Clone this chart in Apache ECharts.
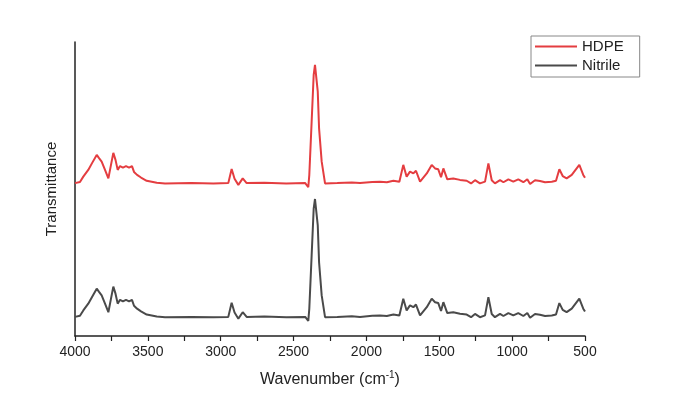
<!DOCTYPE html>
<html>
<head>
<meta charset="utf-8">
<script src="https://cdn.jsdelivr.net/npm/echarts@6/dist/echarts.min.js"></script>
<style>
  html, body { margin: 0; padding: 0; background: #fff; }
  #chart { width: 685px; height: 395px; }
</style>
</head>
<body>
<div id="chart"></div>
<script>
// wavenumbers (cm-1)
const wavenumbers = [
  4000, 3966, 3943, 3909, 3883, 3851, 3835, 3817, 3794, 3771,
  3753, 3737, 3722, 3707, 3691, 3671, 3650, 3629, 3609, 3595,
  3574, 3547, 3508, 3439, 3382, 3200, 3050, 2948, 2925, 2905,
  2879, 2849, 2822, 2700, 2550, 2420, 2399, 2392, 2376, 2362,
  2353, 2334, 2325, 2307, 2284, 2200, 2100, 2044, 1960, 1907,
  1860, 1815, 1774, 1747, 1724, 1701, 1678, 1660, 1632, 1586,
  1552, 1529, 1507, 1488, 1472, 1445, 1404, 1358, 1312, 1282,
  1255, 1221, 1186, 1163, 1140, 1118, 1083, 1060, 1026, 992,
  958, 923, 896, 877, 843, 809, 774, 728, 699, 676,
  653, 626, 591, 539, 512, 500
];

const hdpe = [
  52.0, 52.4, 54.2, 56.5, 58.8, 61.6, 60.5, 59.3, 56.5, 53.6,
  58.2, 62.3, 59.9, 56.5, 57.8, 57.3, 57.8, 57.3, 57.8, 55.8,
  54.8, 53.9, 52.8, 52.1, 51.9, 52.0, 51.9, 52.0, 56.8, 53.5,
  51.4, 53.6, 52.0, 52.1, 51.9, 52.0, 50.6, 54.8, 72.9, 88.8,
  92.2, 83.1, 70.6, 59.3, 51.9, 52.0, 52.2, 52.0, 52.4, 52.5,
  52.3, 52.8, 52.5, 58.2, 54.2, 55.9, 55.3, 56.2, 52.5, 55.3,
  58.2, 57.0, 56.7, 54.0, 57.0, 53.3, 53.6, 53.1, 52.8, 51.9,
  53.0, 51.9, 52.5, 58.7, 53.0, 51.9, 53.0, 52.3, 53.3, 52.5,
  53.3, 52.3, 53.3, 51.7, 53.0, 52.7, 52.3, 52.5, 52.8, 56.7,
  54.4, 53.6, 54.8, 58.2, 54.8, 53.8
];

const nitrile = [
  6.5, 6.9, 8.7, 11.0, 13.3, 16.1, 15.0, 13.8, 11.0, 8.1,
  12.7, 16.8, 14.4, 11.0, 12.3, 11.8, 12.3, 11.8, 12.3, 10.3,
  9.3, 8.4, 7.3, 6.6, 6.4, 6.5, 6.4, 6.5, 11.3, 8.0,
  5.9, 8.1, 6.5, 6.6, 6.4, 6.5, 5.1, 9.3, 27.4, 43.3,
  46.6, 37.6, 25.1, 13.8, 6.4, 6.5, 6.7, 6.5, 6.9, 7.0,
  6.8, 7.3, 7.0, 12.7, 8.7, 10.4, 9.8, 10.7, 7.0, 9.8,
  12.7, 11.5, 11.2, 8.5, 11.5, 7.8, 8.1, 7.6, 7.3, 6.4,
  7.5, 6.4, 7.0, 13.2, 7.5, 6.4, 7.5, 6.8, 7.8, 7.0,
  7.8, 6.8, 7.8, 6.2, 7.5, 7.2, 6.8, 7.0, 7.3, 11.2,
  8.9, 8.1, 9.3, 12.7, 9.3, 8.3
];

const FONT = 'Liberation Sans';
const chart = echarts.init(document.getElementById('chart'));

function pairs(values) {
  return wavenumbers.map((w, i) => [w, values[i]]);
}

chart.setOption({
  animation: false,
  textStyle: { fontFamily: FONT },
  grid: { left: 75, right: 100, top: 42, bottom: 59 },
  legend: {
    orient: 'vertical',
    left: 531,
    top: 36,
    itemWidth: 42,
    itemHeight: 14,
    itemGap: 4,
    padding: [3, 16, 4, 3],
    borderColor: '#888',
    borderWidth: 1,
    itemStyle: { opacity: 0 },
    textStyle: { fontFamily: FONT, fontSize: 15, color: '#222' },
    data: ['HDPE', 'Nitrile']
  },
  xAxis: {
    type: 'value',
    inverse: true,
    min: 500,
    max: 4000,
    interval: 250,
    axisLine: { lineStyle: { color: '#222', width: 1.5 } },
    axisTick: { length: 5, lineStyle: { color: '#222', width: 1.2 } },
    splitLine: { show: false },
    axisLabel: {
      fontFamily: FONT,
      fontSize: 14,
      color: '#222',
      margin: 9,
      formatter: v => (v % 500 === 0 ? String(v) : '')
    },
    name: 'Wavenumber (cm{sup|-1})',
    nameLocation: 'middle',
    nameGap: 34,
    nameTextStyle: {
      fontFamily: FONT,
      fontSize: 16,
      color: '#222',
      rich: {
        sup: { fontFamily: FONT, fontSize: 10, color: '#222', verticalAlign: 'top', padding: [0, 0, 9, 0] }
      }
    }
  },
  yAxis: {
    type: 'value',
    min: 0,
    max: 100,
    axisLine: { show: true, lineStyle: { color: '#222', width: 1.5 } },
    axisTick: { show: false },
    axisLabel: { show: false },
    splitLine: { show: false },
    name: 'Transmittance',
    nameLocation: 'middle',
    nameGap: 16,
    nameTextStyle: { fontFamily: FONT, fontSize: 15, color: '#222' }
  },
  series: [
    {
      name: 'HDPE',
      type: 'line',
      symbol: 'none',
      data: pairs(hdpe),
      lineStyle: { color: '#e43d40', width: 2 },
      itemStyle: { color: '#e43d40' }
    },
    {
      name: 'Nitrile',
      type: 'line',
      symbol: 'none',
      data: pairs(nitrile),
      lineStyle: { color: '#4a4a4a', width: 2 },
      itemStyle: { color: '#4a4a4a' }
    }
  ]
});
</script>
</body>
</html>
